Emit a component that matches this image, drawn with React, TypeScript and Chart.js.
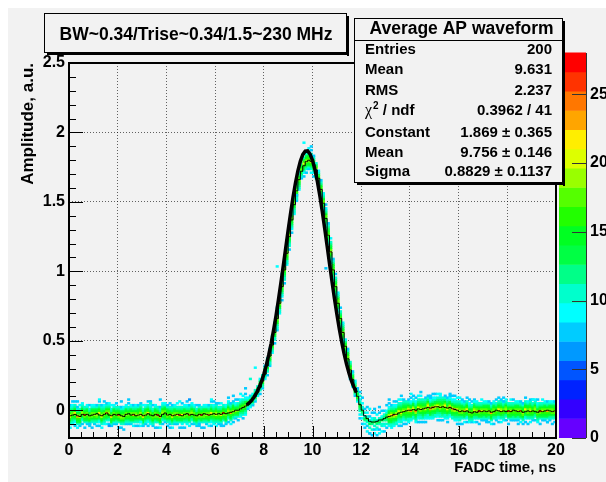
import React, { useEffect, useRef } from "react";
import { Chart, registerables } from "chart.js";

Chart.register(...registerables);

// ---------------- data ----------------
const titleText = "BW~0.34/Trise~0.34/1.5~230 MHz";
const xAxisTitle = "FADC time, ns";
const yAxisTitle = "Amplitude, a.u.";
const statsTitle = "Average AP waveform";
const statsLabels = ["Entries", "Mean", "RMS", "χ² / ndf", "Constant", "Mean", "Sigma"];
const statsValues = ["200", "9.631", "2.237", "0.3962 / 41", "1.869 ± 0.365", "9.756 ± 0.146", "0.8829 ± 0.1137"];

const xRange = [0, 20];
const yRange = [-0.2, 2.5];
const zRange = [0, 28];
const xBinWidth = 0.1;
const yBinWidth = 0.0135;
const xTickStep = 2;
const yTickStep = 0.5;
const zTickLabels = [0, 5, 10, 15, 20, 25];

// profile (mean amplitude per 0.1 ns bin), 200 bins
const profileValues = [
  -0.040, -0.035, -0.030, -0.040, -0.045, -0.030, -0.035, -0.030, -0.040, -0.035,
  -0.030, -0.025, -0.035, -0.040, -0.030, -0.020, -0.035, -0.040, -0.030, -0.035,
  -0.030, -0.040, -0.045, -0.030, -0.025, -0.035, -0.030, -0.040, -0.035, -0.030,
  -0.040, -0.035, -0.025, -0.035, -0.040, -0.030, -0.035, -0.045, -0.030, -0.020,
  -0.035, -0.030, -0.040, -0.035, -0.030, -0.035, -0.040, -0.030, -0.025, -0.035,
  -0.030, -0.035, -0.040, -0.030, -0.035, -0.025, -0.030, -0.035, -0.030, -0.025,
  -0.030, -0.025, -0.030, -0.020, -0.025, -0.020, -0.015, -0.010, 0.000, 0.000,
  0.010, 0.020, 0.030, 0.045, 0.060, 0.080, 0.100, 0.130, 0.165, 0.210,
  0.260, 0.320, 0.390, 0.470, 0.560, 0.660, 0.770, 0.890, 1.010, 1.130,
  1.250, 1.370, 1.480, 1.580, 1.660, 1.720, 1.760, 1.790, 1.800, 1.790,
  1.770, 1.730, 1.670, 1.590, 1.490, 1.380, 1.260, 1.140, 1.010, 0.890,
  0.770, 0.660, 0.560, 0.460, 0.370, 0.290, 0.220, 0.160, 0.100, 0.040,
  0.000, -0.040, -0.060, -0.080, -0.085, -0.085, -0.080, -0.070, -0.070, -0.060,
  -0.050, -0.045, -0.040, -0.030, -0.030, -0.020, -0.015, -0.010, -0.005, 0.000,
  0.000, 0.005, 0.000, 0.010, 0.005, 0.010, 0.015, 0.020, 0.015, 0.020,
  0.025, 0.025, 0.020, 0.025, 0.020, 0.015, 0.020, 0.010, 0.005, 0.000,
  -0.010, -0.005, -0.010, -0.005, -0.015, -0.020, -0.010, -0.015, -0.005, -0.010,
  -0.005, -0.010, -0.005, -0.015, -0.010, 0.000, -0.005, -0.010, -0.005, -0.010,
  -0.005, -0.010, 0.000, -0.005, -0.010, -0.005, -0.015, -0.010, -0.005, -0.010,
  -0.005, -0.010, -0.015, -0.005, -0.010, -0.005, 0.000, -0.005, -0.010, -0.005,
];

// gaussian fit curve, tabulated every 0.1 ns from 7.3 to 11.8
const fitStart = 7.3;
const fitStep = 0.1;
const fitValues = [
  0.039, 0.053, 0.071, 0.095, 0.124, 0.161, 0.205, 0.259, 0.322, 0.396,
  0.480, 0.575, 0.679, 0.793, 0.914, 1.040, 1.168, 1.295, 1.418, 1.533,
  1.636, 1.723, 1.792, 1.840, 1.865, 1.867, 1.844, 1.799, 1.732, 1.647,
  1.546, 1.432, 1.311, 1.184, 1.055, 0.929, 0.807, 0.693, 0.587, 0.491,
  0.405, 0.330, 0.266, 0.211, 0.166, 0.128,
];

// 2D histogram cell contents per column (base-36 counts, '.' = empty),
// listed from low to high amplitude, centred on the profile bin
const basePatterns = [
  "..7.acegjhfcb9.",
  ".8.9bdfhlgecb.7",
  "..7adfgihfdb9..",
  ".9.bcegkjgdca8.",
  "7..acfhihedb9..",
  "..8bdegmhfcb.9.",
  ".7.acfhjgfdb8..",
  "..9bcdgihecb9.7",
  "8..adfhqgfcb...",
  "..7bcegjhedb9..",
  ".9.adfgnhfcb8..",
  "..8bceghgecb.7.",
];
const baseOrder = "371a5082b496137a052b8649b2a0635917b48a026b3958147a02b6849a173b5820a6"; // cols 0-67
const tailOrder = "4a17b3085926a4b137085b29a6143b07852a946"; // cols 161-199
const widePatterns = [
  "8.9bcdfhkgdcb.9",
  ".9abdegjmhecb8.",
  "7.abcfhkigdca.9",
  "..9bdfgnjfdb9.8",
  "8.acdegihedcb..",
  ".9bcdfjpgecb9.7",
  "7.9acegkhfdca8.",
  "..abdfhmjedb9.8",
];
const wideOrder = "315702641375024613570241637502"; // cols 131-160
const transientColumns = [ // cols 68-130
  "..8adgjfdb9.7", ".7.bdfigdca.8", "..9bcehgecb9.", "8.acdfhgdcb.9", ".9bcegjfdb9.8",
  "8adgfb9", "9bcheb7", "7aejgc9", "8bdhfca", ".9cgidb",
  "7.adhgec9", "8acfigdb.", ".9bdgjec8", "7.acehgdb9.", "8abdfhgec9.",
  ".9bcegifdb8", "7.abdfhgeca9.", "8abcegigdcb.7", ".9abdfhjfdcb8", "7.9bcdfgieca9.8",
  "8.abcdfhgfdcb9.", ".9abdegihfdcb.7", "7.abcdfgjgecb9.", "8.9bcdeghfdca.7", ".9abcefhgdcb8",
  "8abdegifdb9", "9acdfhgeca8", "8bcegifdb", "7.9bdfhkgdb.8", "8.acegjhfdb9.",
  ".7adfhigfcb.9", "9.bcegkhdca.7", "8.9bdfhgecb8.", "9bdfhjgdb", "8acegifdb9.",
  ".9bdfhgeca8", "7.abdfhieca9.", "8.abcdfgiecb9.7", "7.9bcdfhgfdcb8.", ".8abcegjhfdcb.9",
  "9.abcdfhgfecb8.", "7.9bcdegifdcb.8", "8.abdfgihecb9", ".9bcefhgdcb.8", "7abdfgjfdca9.",
  "8abdfhgec9.", ".9bcegifdb8", "7abdfhgeca.", "9bcegfdb8", "8adfhgca9",
  ".9cegfdb7", "8.9.acdfdb9.a.7", "7..9.bcdca.9..8", ".8.9.cdb.a.8...", "9..8.bcea.9..7.",
  ".7..a.dcb.8...9", "8..a..cdb9..7..", ".9.8.b.dca..8.7", "7..9a.cdb..9...", "..8..bdca..7..8",
  ".9..ab.dc9..7..", "8..9b.cdca.8...", ".7.a.cdfdb9..8.",
];
// isolated cells [time, amplitude, content]
const strayCells = [
  [0.35, 0.06, 8], [0.85, -0.10, 7], [1.25, 0.07, 9], [1.65, -0.11, 6], [2.15, 0.06, 8],
  [2.45, 0.08, 7], [2.95, -0.09, 9], [3.35, 0.05, 10], [3.75, 0.07, 7], [4.15, -0.12, 8],
  [4.55, 0.06, 9], [4.95, 0.08, 6], [5.35, -0.10, 8], [5.85, 0.07, 9], [6.25, -0.11, 7],
  [6.55, 0.09, 8], [6.75, 0.10, 7], [7.05, 0.12, 9], [7.25, 0.16, 8], [7.45, 0.22, 10],
  [7.65, 0.30, 9], [8.55, 1.04, 9], [10.55, 1.02, 8], [9.65, 1.92, 9], [9.95, 1.90, 7],
  [10.15, 1.72, 8], [9.35, 1.55, 7], [12.35, -0.17, 8], [12.75, -0.16, 9], [13.15, 0.08, 7],
  [13.65, 0.10, 8], [14.05, 0.12, 9], [14.45, 0.13, 7], [14.85, 0.09, 8], [15.25, 0.11, 9],
  [15.65, 0.10, 7], [16.15, 0.08, 8], [16.65, 0.06, 9], [17.15, -0.09, 7], [17.85, 0.06, 8],
  [18.45, -0.10, 7], [19.05, 0.07, 9], [19.65, -0.09, 8],
];

const paletteColors = [
  "#6600ff", "#3300ff", "#0022ff", "#0055ff", "#0099ff", "#00ccff", "#00ffff", "#00ffcc", "#00ff88", "#00ff44",
  "#00ff22", "#22ff00", "#55ff00", "#99ff00", "#ddff00", "#ffee00", "#ffa500", "#ff7700", "#ff3300", "#ff0000",
];

// ---------------- helpers ----------------
const BG = "#f2f2f2";
const FONT = '"Liberation Sans", Arial, Helvetica, sans-serif';
const nCols = Math.round((xRange[1] - xRange[0]) / xBinWidth);
const nYBins = Math.round((yRange[1] - yRange[0]) / yBinWidth);

function colCenter(i: number) {
  return Math.round((xRange[0] + (i + 0.5) * xBinWidth) * 10000) / 10000;
}
function yBin(v: number) {
  return Math.floor((v - yRange[0]) / yBinWidth + 1e-9);
}
function colorFor(z: number) {
  const n = paletteColors.length;
  const b = Math.max(0, Math.min(n - 1, Math.floor((z - zRange[0]) / ((zRange[1] - zRange[0]) / n))));
  return paletteColors[b];
}
function columnPattern(i: number): string {
  if (i < 68) return basePatterns[parseInt(baseOrder[i] ?? "0", 12)] ?? basePatterns[0];
  if (i < 131) return transientColumns[i - 68] ?? "";
  if (i < 161) return widePatterns[parseInt(wideOrder[i - 131] ?? "0", 10)] ?? widePatterns[0];
  return basePatterns[parseInt(tailOrder[i - 161] ?? "0", 12)] ?? basePatterns[0];
}

type Cell = { x: number; y: [number, number]; z: number };
function buildCells(): Cell[] {
  const cells: Cell[] = [];
  const push = (col: number, k: number, z: number) => {
    if (col < 0 || col >= nCols || k < 0 || k >= nYBins || z <= 0) return;
    const lo = yRange[0] + k * yBinWidth;
    cells.push({ x: colCenter(col), y: [lo, lo + yBinWidth], z });
  };
  for (let i = 0; i < nCols; i++) {
    const pat = columnPattern(i);
    const anchor = yBin(profileValues[i]);
    const start = anchor - Math.floor(pat.length / 2);
    for (let j = 0; j < pat.length; j++) {
      const ch = pat[j];
      if (ch === ".") continue;
      push(i, start + j, parseInt(ch, 36));
    }
  }
  for (const [x, y, z] of strayCells) {
    push(Math.floor((x - xRange[0]) / xBinWidth), yBin(y), z);
  }
  return cells;
}

// ---------------- decorations plugin ----------------
const rootPlugin = {
  id: "rootStyle",
  beforeDraw(chart: any) {
    const { ctx, width, height } = chart;
    ctx.save();
    ctx.fillStyle = BG;
    ctx.fillRect(0, 0, width, height);
    ctx.restore();
  },
  afterDraw(chart: any) {
    const { ctx, chartArea: a } = chart;
    const xs = chart.scales.x;
    const ys = chart.scales.y;
    ctx.save();

    // inside tick marks
    ctx.strokeStyle = "#000";
    ctx.lineWidth = 1;
    ctx.beginPath();
    const nxMinor = Math.round((xRange[1] - xRange[0]) / 0.5);
    for (let i = 0; i <= nxMinor; i++) {
      const v = xRange[0] + i * 0.5;
      const px = Math.round(xs.getPixelForValue(v)) + 0.5;
      const len = i % 4 === 0 ? 12 : 6;
      ctx.moveTo(px, a.bottom);
      ctx.lineTo(px, a.bottom - len);
    }
    for (let i = -2; i <= 25; i++) {
      const v = i * 0.1;
      const py = Math.round(ys.getPixelForValue(v)) + 0.5;
      const len = i % 5 === 0 ? 14 : 7;
      ctx.moveTo(a.left, py);
      ctx.lineTo(a.left + len, py);
    }
    ctx.stroke();

    // frame
    ctx.lineWidth = 2;
    ctx.strokeRect(a.left, a.top, a.right - a.left, a.bottom - a.top);

    // colour palette
    const cbL = a.right + 3;
    const cbR = a.right + 30;
    const cbT = a.top - 10;
    const cbB = a.bottom;
    const n = paletteColors.length;
    for (let b = 0; b < n; b++) {
      const y0 = cbB - (b * (cbB - cbT)) / n;
      const y1 = cbB - ((b + 1) * (cbB - cbT)) / n;
      ctx.fillStyle = paletteColors[b];
      ctx.fillRect(cbL, y1 - 0.5, cbR - cbL, y0 - y1 + 0.5);
    }
    ctx.strokeStyle = "#333";
    ctx.lineWidth = 1;
    ctx.beginPath();
    ctx.moveTo(cbR + 0.5, cbT);
    ctx.lineTo(cbR + 0.5, cbB);
    for (const z of zTickLabels) {
      const py = Math.round(cbB - ((z - zRange[0]) / (zRange[1] - zRange[0])) * (cbB - cbT)) + 0.5;
      ctx.moveTo(cbR - 14, py);
      ctx.lineTo(cbR, py);
    }
    ctx.stroke();
    ctx.fillStyle = "#000";
    ctx.font = `bold 16px ${FONT}`;
    ctx.textAlign = "left";
    ctx.textBaseline = "middle";
    for (const z of zTickLabels) {
      const py = cbB - ((z - zRange[0]) / (zRange[1] - zRange[0])) * (cbB - cbT);
      ctx.fillText(String(z), cbR + 4, py);
    }

    // boxes with shadow
    const box = (L: number, T: number, R: number, B: number) => {
      ctx.fillStyle = BG;
      ctx.fillRect(L, T, R - L, B - T);
      ctx.strokeStyle = "#000";
      ctx.lineWidth = 1;
      ctx.strokeRect(L + 0.5, T + 0.5, R - L - 1, B - T - 1);
      ctx.fillStyle = "#000";
      ctx.fillRect(R, T + 3, 2, B - T);
      ctx.fillRect(L + 3, B, R - L - 1, 2);
    };

    // title box
    box(36, 5, 339, 45);
    ctx.fillStyle = "#000";
    ctx.font = `bold 17.5px ${FONT}`;
    ctx.textAlign = "center";
    ctx.textBaseline = "middle";
    ctx.fillText(titleText, 188, 27);

    // stats box
    const sL = 346, sT = 10, sR = 555, sB = 175;
    box(sL, sT, sR, sB);
    ctx.fillStyle = "#000";
    ctx.font = `bold 17.5px ${FONT}`;
    ctx.textAlign = "center";
    ctx.fillText(statsTitle, (sL + sR) / 2 + 3, 21);
    ctx.beginPath();
    ctx.moveTo(sL, 32.5);
    ctx.lineTo(sR, 32.5);
    ctx.stroke();
    const rowsY = [42, 62, 83, 103, 125, 145, 164];
    for (let i = 0; i < statsLabels.length; i++) {
      const ry = rowsY[i];
      const label = statsLabels[i];
      ctx.textAlign = "left";
      if (label.startsWith("χ²")) {
        let lx = 357;
        ctx.font = `16px "Liberation Serif", serif`;
        ctx.fillText("χ", lx, ry);
        lx += ctx.measureText("χ").width + 1;
        ctx.font = `bold 10px ${FONT}`;
        ctx.fillText("2", lx, ry - 5);
        lx += ctx.measureText("2").width;
        ctx.font = `bold 15px ${FONT}`;
        ctx.fillText(label.slice(2), lx, ry);
      } else {
        ctx.font = `bold 15px ${FONT}`;
        ctx.fillText(label, 357, ry);
      }
      ctx.font = `bold 15px ${FONT}`;
      ctx.textAlign = "right";
      ctx.fillText(statsValues[i], 544, ry);
    }
    ctx.restore();
  },
};

export default function App() {
  const ref = useRef<HTMLCanvasElement>(null);
  useEffect(() => {
    document.documentElement.style.overflow = "hidden";
    const canvas = ref.current;
    if (!canvas) return;
    const cells = buildCells();
    const profilePts = [
      { x: xRange[0], y: profileValues[0] },
      ...profileValues.map((v, i) => ({ x: colCenter(i), y: v })),
      { x: xRange[1], y: profileValues[profileValues.length - 1] },
    ];
    const fitPts = fitValues.map((v, i) => ({ x: Math.round((fitStart + i * fitStep) * 1000) / 1000, y: v }));

    const chart = new Chart(canvas, {
      type: "bar",
      data: {
        datasets: [
          {
            type: "line",
            label: "fit",
            data: fitPts,
            borderColor: "#000",
            borderWidth: 3.5,
            pointRadius: 0,
            tension: 0,
            fill: false,
            order: 0,
          } as any,
          {
            type: "line",
            label: "profile",
            data: profilePts,
            borderColor: "#000",
            borderWidth: 1,
            pointRadius: 0,
            stepped: "middle",
            fill: false,
            order: 1,
          } as any,
          {
            type: "bar",
            label: "cells",
            data: cells as any,
            backgroundColor: (c: any) => (c.raw ? colorFor(c.raw.z) : "#000"),
            borderWidth: 0,
            barPercentage: 1,
            categoryPercentage: 1,
            grouped: false,
            order: 2,
          } as any,
        ],
      },
      options: {
        animation: false,
        responsive: false,
        events: [],
        layout: { padding: { top: 55, right: 50, left: 0, bottom: 0 } },
        plugins: {
          legend: { display: false },
          tooltip: { enabled: false },
          title: { display: false },
        },
        scales: {
          x: {
            type: "linear",
            min: xRange[0],
            max: xRange[1],
            offset: false,
            grid: { offset: false, drawTicks: false, color: "rgba(0,0,0,0.6)", lineWidth: 1 },
            border: { display: false, dash: [1, 2] },
            ticks: {
              stepSize: xTickStep,
              autoSkip: false,
              maxRotation: 0,
              padding: 3,
              color: "#000",
              font: { family: FONT, size: 16, weight: "bold" },
              callback: (v: any) => String(v),
            },
            title: {
              display: true,
              text: xAxisTitle,
              align: "end",
              color: "#000",
              font: { family: FONT, size: 15, weight: "bold" },
              padding: { top: 0, bottom: 5 },
            },
            afterFit: (s: any) => {
              s.height = 44;
            },
          } as any,
          y: {
            type: "linear",
            min: yRange[0],
            max: yRange[1],
            grid: { drawTicks: false, color: "rgba(0,0,0,0.6)", lineWidth: 1 },
            border: { display: false, dash: [1, 2] },
            ticks: {
              stepSize: yTickStep,
              includeBounds: false,
              padding: 4,
              color: "#000",
              font: { family: FONT, size: 16, weight: "bold" },
              callback: (v: any) => String(v),
            },
            title: {
              display: true,
              text: yAxisTitle,
              align: "end",
              color: "#000",
              font: { family: FONT, size: 17, weight: "bold" },
              padding: { top: 10, bottom: 0 },
            },
            afterFit: (s: any) => {
              s.width = 61;
            },
          } as any,
        },
      },
      plugins: [rootPlugin as any],
    });
    return () => chart.destroy();
  }, []);

  return (
    <div style={{ position: "fixed", left: 8, top: 8, width: 598, height: 474 }}>
      <canvas ref={ref} width={598} height={474} style={{ display: "block", width: 598, height: 474 }} />
    </div>
  );
}
